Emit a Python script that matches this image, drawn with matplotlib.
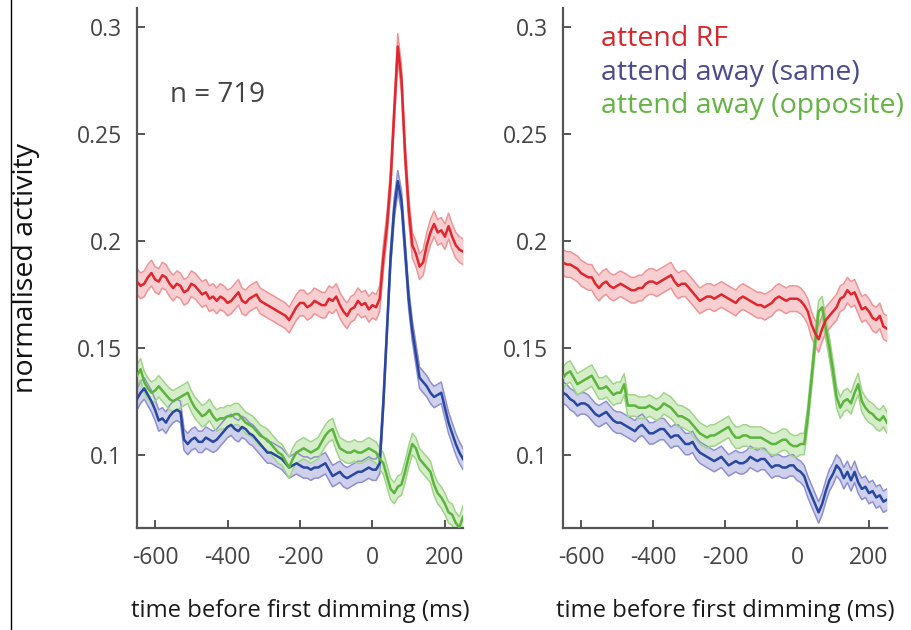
import numpy as np
import matplotlib.pyplot as plt
from matplotlib.lines import Line2D

plt.rcParams['font.family'] = ['Open Sans', 'DejaVu Sans']
plt.rcParams['axes.unicode_minus'] = False

# time axis, 10 ms steps (-650 .. 250)
t = np.arange(-650, 251, 10)

# left panel
left_rf = [0.181, 0.179, 0.180, 0.183, 0.185, 0.182, 0.181, 0.184, 0.183, 0.180,
           0.178, 0.180, 0.179, 0.176, 0.177, 0.180, 0.179, 0.177, 0.175, 0.176,
           0.173, 0.174, 0.172, 0.174, 0.173, 0.171, 0.172, 0.174, 0.176, 0.172,
           0.171, 0.173, 0.174, 0.175, 0.172, 0.171, 0.170, 0.169, 0.168, 0.167,
           0.166, 0.165, 0.163, 0.166, 0.169, 0.171, 0.171, 0.169, 0.170, 0.172,
           0.171, 0.170, 0.170, 0.173, 0.172, 0.174, 0.170, 0.167, 0.165, 0.168,
           0.169, 0.172, 0.170, 0.171, 0.168, 0.170, 0.169, 0.173, 0.192, 0.207,
           0.228, 0.260, 0.291, 0.276, 0.241, 0.215, 0.198, 0.194, 0.188, 0.190,
           0.198, 0.204, 0.208, 0.204, 0.205, 0.202, 0.207, 0.202, 0.198, 0.196,
           0.195]
left_same = [0.126, 0.129, 0.131, 0.128, 0.125, 0.121, 0.116, 0.117, 0.115, 0.118,
             0.120, 0.121, 0.120, 0.107, 0.105, 0.107, 0.108, 0.106, 0.106, 0.108,
             0.107, 0.106, 0.107, 0.109, 0.111, 0.113, 0.114, 0.112, 0.111, 0.113,
             0.112, 0.110, 0.109, 0.107, 0.105, 0.103, 0.101, 0.101, 0.100, 0.099,
             0.098, 0.096, 0.094, 0.095, 0.096, 0.095, 0.094, 0.094, 0.093, 0.094,
             0.094, 0.095, 0.096, 0.093, 0.090, 0.091, 0.092, 0.090, 0.089, 0.090,
             0.091, 0.092, 0.092, 0.093, 0.094, 0.093, 0.093, 0.096, 0.124, 0.158,
             0.192, 0.215, 0.228, 0.219, 0.196, 0.173, 0.158, 0.147, 0.136, 0.134,
             0.132, 0.129, 0.127, 0.128, 0.129, 0.122, 0.115, 0.110, 0.105, 0.101,
             0.098]
left_opp = [0.137, 0.140, 0.134, 0.131, 0.129, 0.130, 0.132, 0.130, 0.128, 0.126,
            0.125, 0.126, 0.127, 0.128, 0.129, 0.125, 0.122, 0.120, 0.118, 0.119,
            0.121, 0.118, 0.116, 0.117, 0.117, 0.118, 0.118, 0.119, 0.119, 0.117,
            0.115, 0.114, 0.113, 0.111, 0.109, 0.108, 0.107, 0.105, 0.103, 0.101,
            0.100, 0.097, 0.094, 0.098, 0.101, 0.102, 0.103, 0.102, 0.101, 0.102,
            0.103, 0.106, 0.109, 0.111, 0.112, 0.107, 0.103, 0.102, 0.101, 0.101,
            0.102, 0.101, 0.101, 0.102, 0.103, 0.102, 0.101, 0.098, 0.096, 0.090,
            0.084, 0.082, 0.085, 0.086, 0.092, 0.099, 0.105, 0.103, 0.098, 0.096,
            0.094, 0.092, 0.086, 0.082, 0.080, 0.077, 0.073, 0.072, 0.068, 0.066,
            0.071]

# right panel
right_rf = [0.190, 0.189, 0.189, 0.188, 0.187, 0.185, 0.184, 0.183, 0.183, 0.180,
            0.178, 0.180, 0.181, 0.179, 0.178, 0.179, 0.180, 0.179, 0.178, 0.177,
            0.177, 0.178, 0.178, 0.180, 0.181, 0.181, 0.180, 0.181, 0.182, 0.183,
            0.184, 0.181, 0.179, 0.180, 0.180, 0.178, 0.176, 0.174, 0.172, 0.173,
            0.174, 0.174, 0.173, 0.174, 0.175, 0.174, 0.173, 0.172, 0.171, 0.173,
            0.174, 0.173, 0.172, 0.171, 0.170, 0.170, 0.169, 0.170, 0.171, 0.173,
            0.174, 0.173, 0.172, 0.173, 0.173, 0.173, 0.172, 0.170, 0.167, 0.161,
            0.157, 0.154, 0.159, 0.163, 0.165, 0.167, 0.169, 0.173, 0.174, 0.177,
            0.175, 0.176, 0.172, 0.168, 0.169, 0.167, 0.164, 0.163, 0.165, 0.160,
            0.159]
right_same = [0.129, 0.128, 0.126, 0.125, 0.123, 0.124, 0.124, 0.123, 0.121, 0.119,
              0.118, 0.119, 0.120, 0.118, 0.116, 0.115, 0.115, 0.114, 0.113, 0.112,
              0.111, 0.113, 0.114, 0.112, 0.110, 0.110, 0.111, 0.112, 0.112, 0.110,
              0.108, 0.109, 0.109, 0.107, 0.105, 0.105, 0.106, 0.103, 0.101, 0.100,
              0.099, 0.098, 0.097, 0.098, 0.099, 0.097, 0.095, 0.096, 0.097, 0.096,
              0.096, 0.097, 0.099, 0.098, 0.097, 0.098, 0.098, 0.096, 0.094, 0.095,
              0.095, 0.094, 0.094, 0.095, 0.095, 0.093, 0.092, 0.090, 0.085, 0.081,
              0.077, 0.073, 0.077, 0.083, 0.088, 0.091, 0.095, 0.093, 0.089, 0.092,
              0.088, 0.092, 0.087, 0.084, 0.085, 0.082, 0.083, 0.080, 0.081, 0.078,
              0.079]
right_opp = [0.136, 0.138, 0.139, 0.136, 0.133, 0.134, 0.135, 0.136, 0.137, 0.134,
             0.131, 0.131, 0.132, 0.130, 0.128, 0.129, 0.129, 0.133, 0.123, 0.123,
             0.123, 0.122, 0.122, 0.122, 0.123, 0.122, 0.121, 0.122, 0.124, 0.123,
             0.122, 0.120, 0.118, 0.118, 0.117, 0.116, 0.114, 0.112, 0.110, 0.109,
             0.108, 0.109, 0.109, 0.110, 0.111, 0.112, 0.113, 0.110, 0.108, 0.108,
             0.109, 0.109, 0.108, 0.108, 0.108, 0.108, 0.107, 0.106, 0.105, 0.105,
             0.106, 0.107, 0.107, 0.105, 0.104, 0.104, 0.105, 0.105, 0.118, 0.135,
             0.152, 0.167, 0.169, 0.159, 0.150, 0.139, 0.127, 0.122, 0.125, 0.126,
             0.124, 0.129, 0.133, 0.125, 0.122, 0.120, 0.119, 0.117, 0.116, 0.118,
             0.115]

sem = {'rf': 0.006, 'same': 0.005, 'opp': 0.005}

styles = {
    'rf':   dict(line='#e1262d', fill='#f8cfd1', edge='#ef9498'),
    'same': dict(line='#2747a0', fill='#cfd0ec', edge='#8f90cf'),
    'opp':  dict(line='#5bb43b', fill='#d6edca', edge='#a0d48a'),
}

fig = plt.figure(figsize=(9.12, 6.3), dpi=100)
ax1 = fig.add_axes([0.1502, 0.1619, 0.3575, 0.8253])
ax2 = fig.add_axes([0.6173, 0.1619, 0.3553, 0.8253])

panels = [(ax1, {'same': left_same, 'opp': left_opp, 'rf': left_rf}),
          (ax2, {'same': right_same, 'opp': right_opp, 'rf': right_rf})]

for ax, series in panels:
    for key in ['same', 'opp', 'rf']:
        y = np.array(series[key])
        s = styles[key]
        e = sem[key]
        ax.fill_between(t, y - e, y + e, color=s['fill'], lw=0, zorder=1)
        ax.plot(t, y - e, color=s['edge'], lw=1.1, zorder=2)
        ax.plot(t, y + e, color=s['edge'], lw=1.1, zorder=2)
        ax.plot(t, y, color=s['line'], lw=1.8, zorder=3)
    ax.set_xlim(-650, 250)
    ax.set_ylim(0.0657, 0.309)
    ax.set_xticks([-600, -400, -200, 0, 200])
    ax.set_yticks([0.1, 0.15, 0.2, 0.25, 0.3])
    ax.set_yticklabels(['0.1', '0.15', '0.2', '0.25', '0.3'])
    for sp in ['top', 'right']:
        ax.spines[sp].set_visible(False)
    for sp in ['left', 'bottom']:
        ax.spines[sp].set_color('#555555')
        ax.spines[sp].set_linewidth(1.6)
    ax.tick_params(direction='in', length=6, width=1.4, color='#555555',
                   labelcolor='#444444', labelsize=16.5)
    ax.tick_params(axis='x', pad=13)
    ax.tick_params(axis='y', pad=11)
    ax.text(0.5, -0.16, 'time before first dimming (ms)', transform=ax.transAxes,
            ha='center', va='center', fontsize=17.2, color='#1a1a1a')

ax1.text(-560, 0.2683, 'n = 719', fontsize=20, color='#444444', va='center')

ax2.text(-545, 0.2943, 'attend RF', fontsize=20.5, color='#d9262c', va='center')
ax2.text(-545, 0.2786, 'attend away (same)', fontsize=20.5, color='#4b4a8c', va='center')
ax2.text(-545, 0.2631, 'attend away (opposite)', fontsize=20.5, color='#63b443', va='center')

fig.text(0.028, 0.574, 'normalised activity', rotation=90, ha='center', va='center',
         fontsize=20.5, color='#111111')

fig.add_artist(Line2D([0.012, 0.012], [0.0, 1.0], transform=fig.transFigure,
                      color='black', lw=1.0))

fig.savefig('out.png', dpi=100)
